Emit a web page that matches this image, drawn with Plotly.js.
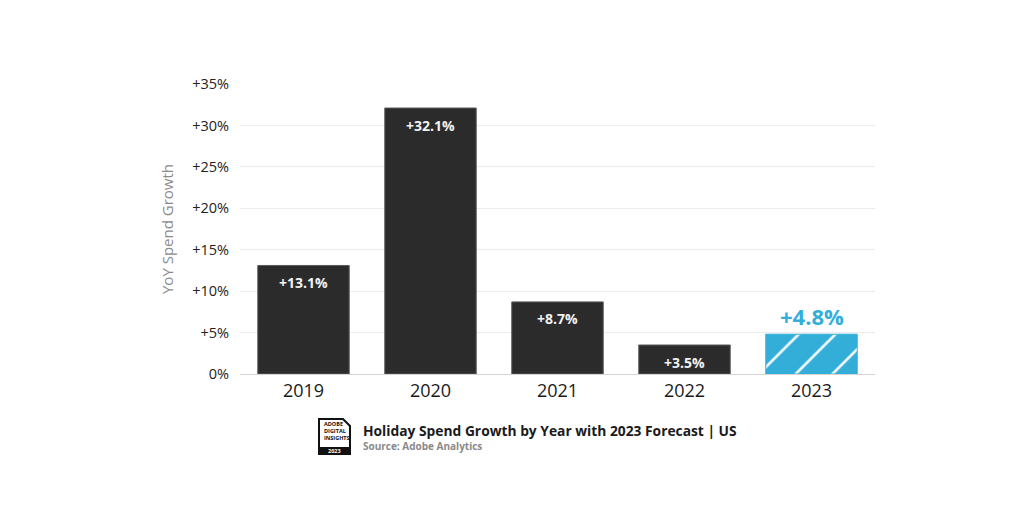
<!DOCTYPE html>
<html>
<head>
<meta charset="utf-8">
<script src="https://cdn.plot.ly/plotly-3.0.1.min.js"></script>
<style>html,body{margin:0;padding:0;background:#fff;}#chart{width:1024px;height:512px;}</style>
</head>
<body>
<div id="chart"></div>
<script>
const years = ['2019', '2020', '2021', '2022', '2023'];
const growth = [13.1, 32.1, 8.7, 3.5, 4.8];
const labels = ['+13.1%', '+32.1%', '+8.7%', '+3.5%', '+4.8%'];
const isForecast = [false, false, false, false, true];
const tickVals = [0, 5, 10, 15, 20, 25, 30, 35];
const tickText = ['0%', '+5%', '+10%', '+15%', '+20%', '+25%', '+30%', '+35%'];
const chartTitle = 'Holiday Spend Growth by Year with 2023 Forecast | US';
const sourceText = 'Source: Adobe Analytics';
const yTitle = 'YoY Spend Growth';

const DARK = '#2b2b2b', BLUE = '#33aed9';
const FONT = '"Open Sans", "Noto Sans", sans-serif';

// plot area geometry in pixels
const L = 240, R = 149, T = 84, B = 138;
const W = 1024 - L - R, H = 512 - T - B;
const px = x => (x - L) / W;
const py = y => (512 - B - y) / H;

const actualX = years.filter((y, i) => !isForecast[i]);
const actualY = growth.filter((v, i) => !isForecast[i]);
const fcX = years.filter((y, i) => isForecast[i]);
const fcY = growth.filter((v, i) => isForecast[i]);

const traceActual = {
  type: 'bar', x: actualX, y: actualY,
  marker: {color: DARK, line: {color: '#5a5a5a', width: 1}},
  hoverinfo: 'none'
};
const traceForecast = {
  type: 'bar', x: fcX, y: fcY,
  marker: {
    color: BLUE,
    line: {color: BLUE, width: 1},
    pattern: {shape: '/', fillmode: 'replace', bgcolor: BLUE, fgcolor: '#ffffff', fgopacity: 1, size: 26, solidity: 0.1}
  },
  hoverinfo: 'none'
};

// category axis: annotations use the category's serial number
const annotations = years.map((yr, i) => isForecast[i] ? {
  x: i, y: growth[i], xref: 'x', yref: 'y', text: '<b>' + labels[i] + '</b>',
  showarrow: false, yanchor: 'bottom', yshift: 1,
  font: {family: FONT, size: 22, color: BLUE}
} : {
  x: i, y: growth[i], xref: 'x', yref: 'y', text: '<b>' + labels[i] + '</b>',
  showarrow: false, yanchor: 'middle', yshift: -17,
  font: {family: FONT, size: 14, color: '#f2f2f2'}
});

// footer text
annotations.push({
  xref: 'paper', yref: 'paper', x: px(361), y: py(430), xanchor: 'left', yanchor: 'middle',
  text: '<b>' + chartTitle + '</b>', showarrow: false,
  font: {family: FONT, size: 13.8, color: '#1a1a1a'}
});
annotations.push({
  xref: 'paper', yref: 'paper', x: px(361), y: py(446), xanchor: 'left', yanchor: 'middle',
  text: '<b>' + sourceText + '</b>', showarrow: false,
  font: {family: FONT, size: 10, color: '#8a8a8a'}
});
// logo text
annotations.push({
  xref: 'paper', yref: 'paper', x: px(322), y: py(431), xanchor: 'left', yanchor: 'middle',
  text: '<b>ADOBE<br>DIGITAL<br>INSIGHTS</b>', showarrow: false, align: 'left',
  font: {family: FONT, size: 5.5, color: '#111'}
});
annotations.push({
  xref: 'paper', yref: 'paper', x: px(334), y: py(451), xanchor: 'center', yanchor: 'middle',
  text: '<b>2023</b>', showarrow: false,
  font: {family: FONT, size: 5.5, color: '#fff'}
});

const shapes = [
  {type: 'path', xref: 'paper', yref: 'paper', line: {color: '#111', width: 2}, fillcolor: 'rgba(0,0,0,0)',
   path: `M ${px(319)} ${py(419)} L ${px(343)} ${py(419)} L ${px(350)} ${py(426)} L ${px(350)} ${py(454)} L ${px(319)} ${py(454)} Z`},
  {type: 'rect', xref: 'paper', yref: 'paper', line: {width: 0}, fillcolor: '#111',
   x0: px(319), x1: px(350), y0: py(454), y1: py(447)}
];

const layout = {
  width: 1024, height: 512,
  margin: {l: L, r: R, t: T, b: B, pad: 0},
  paper_bgcolor: '#ffffff', plot_bgcolor: '#ffffff',
  showlegend: false,
  barmode: 'overlay',
  bargap: 0.28,
  font: {family: FONT},
  xaxis: {
    type: 'category', categoryorder: 'array', categoryarray: years,
    range: [-0.5, years.length - 0.5], autorange: false,
    showgrid: false, zeroline: false, showline: false,
    ticks: '', tickfont: {family: FONT, size: 18, color: '#1a1a1a'}, ticklabelstandoff: 4
  },
  yaxis: {
    range: [0, 35], tickvals: tickVals, ticktext: tickText,
    showgrid: true, gridcolor: '#ececec', gridwidth: 1,
    zeroline: true, zerolinecolor: '#d4d4d4', zerolinewidth: 1,
    showline: false, ticks: '', ticklabelstandoff: 10,
    tickfont: {family: FONT, size: 14.5, color: '#222'},
    title: {text: yTitle, standoff: 14, font: {family: FONT, size: 15, color: '#8c8c8c'}}
  },
  annotations: annotations,
  shapes: shapes
};

Plotly.newPlot('chart', [traceActual, traceForecast], layout, {displayModeBar: false, staticPlot: true});
</script>
</body>
</html>
